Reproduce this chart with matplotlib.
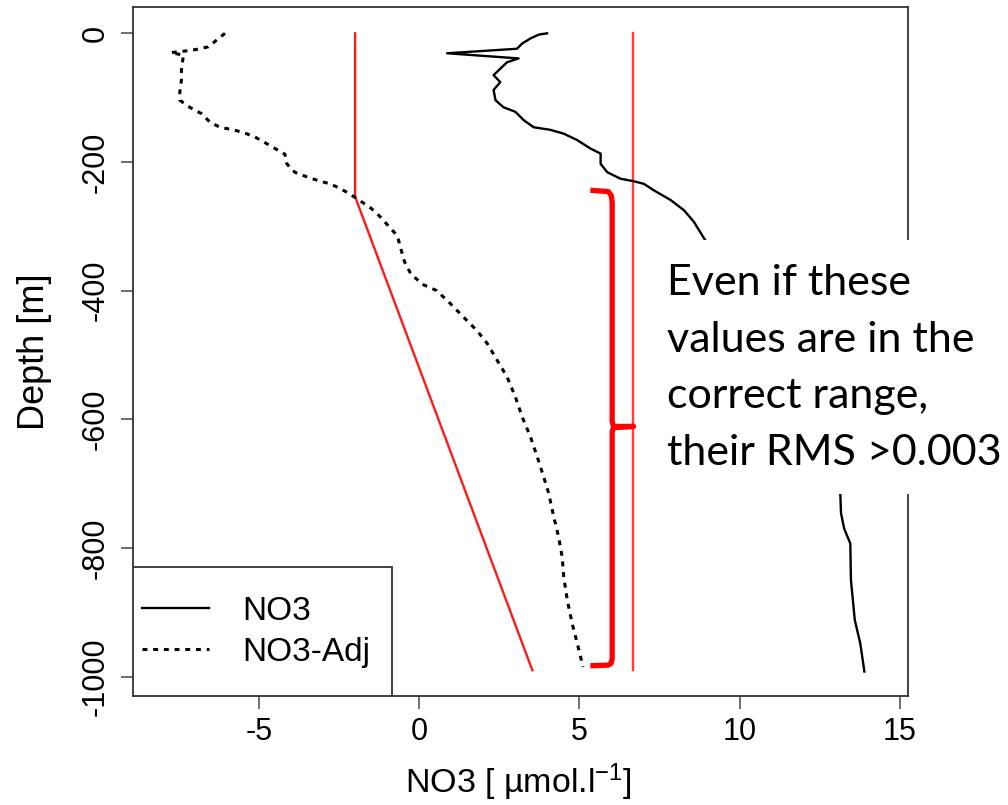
import matplotlib
matplotlib.use("Agg")
import matplotlib.pyplot as plt
from matplotlib.patches import Rectangle

plt.rcParams['font.family'] = ['Liberation Sans', 'DejaVu Sans']
plt.rcParams['axes.unicode_minus'] = False
plt.rcParams['mathtext.fontset'] = 'custom'
plt.rcParams['mathtext.rm'] = 'Liberation Sans'
plt.rcParams['mathtext.default'] = 'regular'

# ---- data ----
no3_depth = [0, -2, -8, -16, -24, -31, -39, -45, -55, -65, -76, -88, -104, -115,
             -122, -135, -146, -150, -156, -166, -179, -187, -203, -216, -226,
             -230, -234, -244, -259, -275, -293, -319, -380, -450, -520, -600,
             -670, -718, -746, -770, -793, -850, -912, -948, -992]
no3_vals = [3.99, 3.73, 3.47, 3.21, 3.05, 0.87, 3.10, 2.74, 2.53, 2.32, 2.53,
            2.32, 2.38, 2.63, 3.00, 3.26, 3.57, 4.09, 4.51, 4.93, 5.34, 5.66,
            5.66, 5.87, 6.28, 6.70, 7.01, 7.32, 7.84, 8.26, 8.57, 8.89, 9.80,
            10.90, 11.80, 12.50, 13.00, 13.14, 13.16, 13.26, 13.45, 13.47,
            13.59, 13.76, 13.89]

adj_depth = [0, -21, -25, -27, -30, -34, -39, -57, -73, -91, -104, -115, -125,
             -138, -146, -150, -155, -161, -170, -179, -188, -203, -216, -223,
             -229, -234, -241, -250, -259, -272, -285, -300, -315, -332, -355,
             -375, -391, -400, -412, -420, -441, -462, -482, -508, -534, -565,
             -596, -627, -658, -689, -715, -752, -783, -814, -845, -881, -917,
             -948, -985]
adj_vals = [-6.06, -6.58, -6.95, -7.20, -7.75, -7.35, -7.37, -7.42, -7.42,
            -7.47, -7.47, -7.16, -6.79, -6.53, -6.22, -5.80, -5.44, -5.13,
            -4.81, -4.50, -4.19, -4.13, -3.88, -3.51, -3.15, -2.78, -2.47,
            -2.16, -1.88, -1.50, -1.22, -0.95, -0.68, -0.59, -0.46, -0.25,
            0.14, 0.55, 0.80, 0.97, 1.38, 1.80, 2.12, 2.43, 2.74, 3.00, 3.21,
            3.47, 3.68, 3.88, 4.04, 4.20, 4.35, 4.46, 4.51, 4.62, 4.77, 4.93,
            5.11]

low_depth = [0, -254, -990]
low_vals = [-2.0, -2.0, 3.53]
high_depth = [0, -990]
high_vals = [6.68, 6.68]

# bracket annotation (data coordinates)
bracket_x = [5.34, 5.90, 5.99, 6.02, 6.02, 6.06, 6.69, 6.06, 6.02, 6.02, 5.99, 5.90, 5.34]
bracket_y = [-244, -246, -252, -262, -604, -611, -611, -613, -620, -972, -979, -982, -983]

xticks = [-5, 0, 5, 10, 15]
yticks = [0, -200, -400, -600, -800, -1000]

note_lines = ["Even if these", "values are in the", "correct range,", "their RMS >0.003"]

# ---- figure ----
W, H = 1008, 805
AX_L, AX_R, AX_T, AX_B = 133, 908, 7, 696
fig = plt.figure(figsize=(W / 100, H / 100), dpi=100)
ax = fig.add_axes([AX_L / W, 1 - AX_B / H, (AX_R - AX_L) / W, (AX_B - AX_T) / H])
aw, ah = AX_R - AX_L, AX_B - AX_T

ax.plot(no3_vals, no3_depth, color='black', lw=1.7, label='NO3', zorder=3)
ax.plot(adj_vals, adj_depth, color='black', lw=2.2, linestyle=(0, (1.6, 1.9)),
        label='NO3-Adj', zorder=3)
ax.plot(low_vals, low_depth, color='#ff1a1a', lw=1.7, zorder=2)
ax.plot(high_vals, high_depth, color='#ff4040', lw=1.7, zorder=2)
ax.plot(bracket_x, bracket_y, color='#ff0000', lw=3.8, solid_joinstyle='round',
        solid_capstyle='butt', zorder=4)

ax.set_xlim(-8.93, 15.25)
ax.set_ylim(-1030, 40.9)
ax.set_xticks(xticks)
ax.set_yticks(yticks)
ax.set_xticklabels([str(v) for v in xticks])
ax.set_yticklabels([str(v) for v in yticks], rotation=90, va='center')

for s in ax.spines.values():
    s.set_color('#333333')
    s.set_linewidth(1.3)

ax.tick_params(axis='both', length=9, width=1.2, color='#555555',
               labelsize=22, labelcolor='black')
ax.tick_params(axis='x', pad=6)
ax.tick_params(axis='y', pad=7)

ax.set_xlabel('NO3 [ \u00b5mol.l$^{-1}$]', fontsize=24.5)
ax.set_ylabel('Depth [m]', fontsize=26)
ax.xaxis.set_label_coords(0.497, -0.095)
ax.yaxis.set_label_coords(-0.104, 0.5)

# legend frame (R style box in lower-left corner)
ax.add_patch(Rectangle((0, 0), (392 - AX_L) / aw, (AX_B - 567) / ah,
                       transform=ax.transAxes, facecolor='white',
                       edgecolor='#333333', lw=1.3, zorder=5))
leg = ax.legend(loc='upper left', bbox_to_anchor=((142 - AX_L) / aw, (AX_B - 596) / ah),
                borderaxespad=0, borderpad=0, frameon=False, fontsize=24,
                handlelength=2.0, handletextpad=1.0, labelspacing=0.3)
leg.set_zorder(6)

# white overlay box with the note
fig.patches.append(Rectangle((655 / W, 1 - 494 / H), (W - 655) / W, 254 / H,
                             transform=fig.transFigure, facecolor='white',
                             edgecolor='none', zorder=10))
baselines = [295, 352, 408, 465]
for line, b in zip(note_lines, baselines):
    fig.text(667 / W, 1 - b / H, line, fontsize=31, family=['Lato', 'DejaVu Sans'],
             color='black', ha='left', va='baseline', zorder=11)

fig.savefig('out.png', dpi=100)
